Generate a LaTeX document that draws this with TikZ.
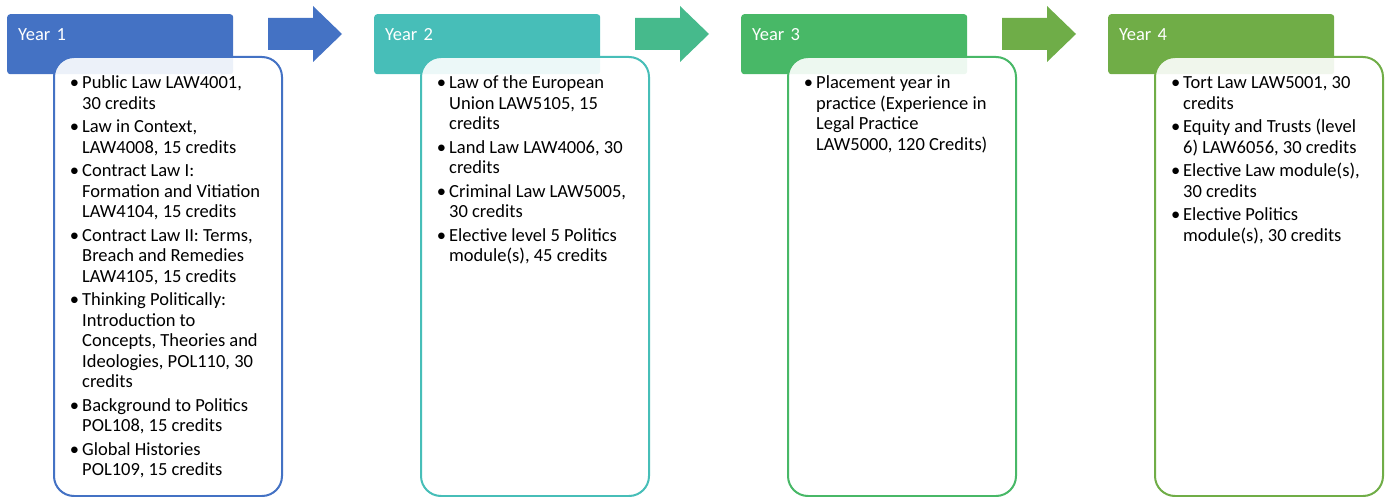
\documentclass[tikz,border=0pt]{standalone}
\usepackage{fontspec}
\setmainfont{Carlito}
\usetikzlibrary{positioning}

\definecolor{yearone}{HTML}{4472C4}
\definecolor{yeartwo}{HTML}{47BEB8}
\definecolor{arrowtwo}{HTML}{46BA8C}
\definecolor{yearthree}{HTML}{48B867}
\definecolor{arrowthree}{HTML}{6FAD48}
\definecolor{yearfour}{HTML}{70AD47}

\newcommand{\yearfont}{\fontsize{18.5}{20.5}\selectfont}
\newcommand{\bul}{\llap{\textbullet\hspace{3pt}}}

\begin{document}
\begin{tikzpicture}[x=1pt,y=-1pt,
    yearhead/.style={anchor=north west, fill=#1, minimum width=226pt, minimum height=60pt,
      text width=204pt, inner xsep=11pt, inner ysep=0pt, text height=26pt, text depth=34pt,
      rounded corners=3pt, text=white, font=\yearfont},
    yearbody/.style={anchor=north west, draw=#1, line width=2pt, fill=white, fill opacity=0.9,
      minimum width=228pt, minimum height=439pt, rounded corners=20pt, inner sep=0pt},
    yeartext/.style={align=left, inner sep=0pt, font=\yearfont, below right=18pt and 29pt of #1},
    yeararrow/.pic={\fill (0,18) -- (45,18) -- (45,6) -- (74,34) -- (45,62) -- (45,50) -- (0,50) -- cycle;}
  ]
    \useasboundingbox (0,0) rectangle (1386,497);

    % year headers
    \node[yearhead=yearone] (head1) at (7,14) {Year 1};
    \node[yearhead=yeartwo] (head2) at (374,14) {Year 2};
    \node[yearhead=yearthree] (head3) at (741,14) {Year 3};
    \node[yearhead=yearfour] (head4) at (1108,14) {Year 4};

    % arrows between years
    \pic[yearone] at (268,0) {yeararrow};
    \pic[arrowtwo] at (635,0) {yeararrow};
    \pic[arrowthree] at (1002,0) {yeararrow};

    % module boxes
    \node[yearbody=yearone] (body1) at (53,56) {};
    \node[yearbody=yeartwo] (body2) at (420,56) {};
    \node[yearbody=yearthree] (body3) at (787,56) {};
    \node[yearbody=yearfour] (body4) at (1154,56) {};

    \node[yeartext=body1.north west] (list1) {\strut\bul Public Law LAW4001,\\ 30 credits\\[3pt]
      \bul Law in Context,\\ LAW4008, 15 credits\\[3pt]
      \bul Contract Law I:\\ Formation and Vitiation\\ LAW4104, 15 credits\\[3pt]
      \bul Contract Law II: Terms,\\ Breach and Remedies\\ LAW4105, 15 credits\\[3pt]
      \bul Thinking Politically:\\ Introduction to\\ Concepts, Theories and\\ Ideologies, POL110, 30\\ credits\\[3pt]
      \bul Background to Politics\\ POL108, 15 credits\\[3pt]
      \bul Global Histories\\ POL109, 15 credits};
    \node[yeartext=body2.north west] (list2) {\strut\bul Law of the European\\ Union LAW5105, 15\\ credits\\[3pt]
      \bul Land Law LAW4006, 30\\ credits\\[3pt]
      \bul Criminal Law LAW5005,\\ 30 credits\\[3pt]
      \bul Elective level 5 Politics\\ module(s), 45 credits};
    \node[yeartext=body3.north west] (list3) {\strut\bul Placement year in\\ practice (Experience in\\ Legal Practice\\ LAW5000, 120 Credits)};
    \node[yeartext=body4.north west] (list4) {\strut\bul Tort Law LAW5001, 30\\ credits\\[3pt]
      \bul Equity and Trusts (level\\ 6) LAW6056, 30 credits\\[3pt]
      \bul Elective Law module(s),\\ 30 credits\\[3pt]
      \bul Elective Politics\\ module(s), 30 credits};
\end{tikzpicture}
\end{document}
